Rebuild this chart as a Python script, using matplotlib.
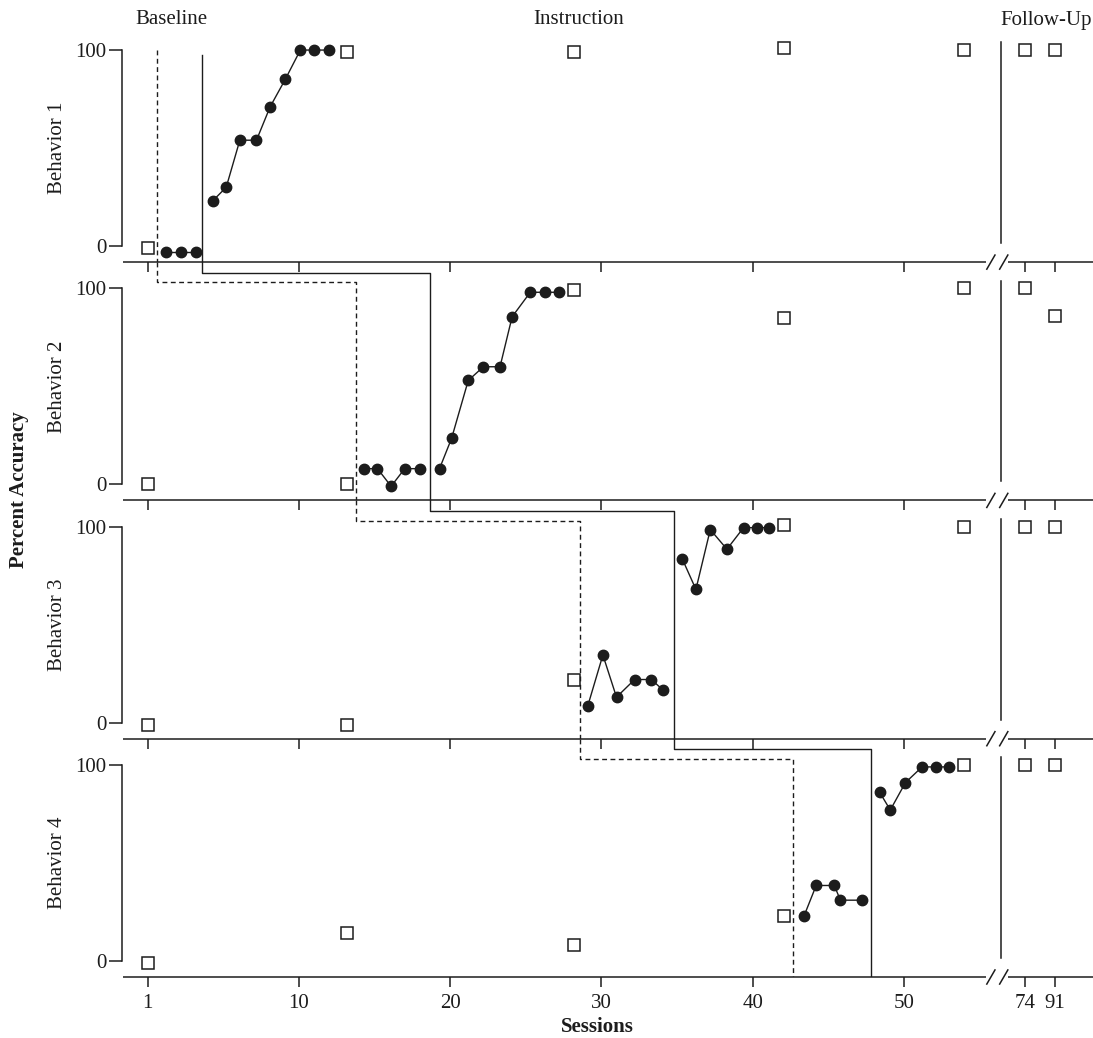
import matplotlib
matplotlib.use("Agg")
import matplotlib.pyplot as plt

plt.rcParams['font.family'] = ['Liberation Serif', 'DejaVu Serif']

# ---------------------------------------------------------------- data
behaviors = ["Behavior 1", "Behavior 2", "Behavior 3", "Behavior 4"]

# probe sessions (open squares) and the two follow-up probes
probe_x = [0, 13.2, 28.2, 42.1, 54.0]
followup_x = [58, 60]
probe_b1 = [-1, 99, 99, 101, 100]
probe_b2 = [0, 0, 99, 85, 100]
probe_b3 = [-1, -1, 22, 101, 100]
probe_b4 = [-1, 14, 8, 23, 100]
followup_b1 = [100, 100]
followup_b2 = [100, 86]
followup_b3 = [100, 100]
followup_b4 = [100, 100]

# baseline sessions (filled circles before instruction)
base_x_b1 = [1.2, 2.2, 3.2]
base_y_b1 = [-3, -3, -3]
base_x_b2 = [14.3, 15.2, 16.1, 17.0, 18.0]
base_y_b2 = [8, 8, -1, 8, 8]
base_x_b3 = [29.1, 30.1, 31.0, 32.2, 33.3, 34.1]
base_y_b3 = [8.5, 34.5, 13, 22, 22, 16.5]
base_x_b4 = [43.4, 44.2, 45.4, 45.8, 47.2]
base_y_b4 = [23, 38.5, 38.5, 31, 31]

# instruction sessions
instr_x_b1 = [4.3, 5.2, 6.1, 7.2, 8.1, 9.1, 10.1, 11.0, 12.0]
instr_y_b1 = [23, 30, 54, 54, 71, 85, 100, 100, 100]
instr_x_b2 = [19.3, 20.1, 21.2, 22.2, 23.3, 24.1, 25.3, 26.3, 27.2]
instr_y_b2 = [8, 23.5, 53, 60, 60, 85.5, 98, 98, 98]
instr_x_b3 = [35.35, 36.25, 37.2, 38.3, 39.4, 40.3, 41.1]
instr_y_b3 = [83.5, 68, 98.5, 88.5, 99.5, 99.5, 99.5]
instr_x_b4 = [48.4, 49.1, 50.1, 51.2, 52.1, 53.0]
instr_y_b4 = [86, 77, 91, 99, 99, 99]

# phase-change lines
probe_line_x = [0.6, 13.8, 28.6, 42.7]     # dashed
instr_line_x = [3.6, 18.7, 34.8, 47.8]     # solid
followup_line_x = 56.4

tick_pos = [0, 10, 20, 30, 40, 50, 58, 60]
tick_labels = ["1", "10", "20", "30", "40", "50", "74", "91"]

probes = [probe_b1, probe_b2, probe_b3, probe_b4]
followups = [followup_b1, followup_b2, followup_b3, followup_b4]
base_x = [base_x_b1, base_x_b2, base_x_b3, base_x_b4]
base_y = [base_y_b1, base_y_b2, base_y_b3, base_y_b4]
instr_x = [instr_x_b1, instr_x_b2, instr_x_b3, instr_x_b4]
instr_y = [instr_y_b1, instr_y_b2, instr_y_b3, instr_y_b4]

# ---------------------------------------------------------------- layout
W, H = 1093, 1038
fig = plt.figure(figsize=(W / 100, H / 100), dpi=100)

INK = "#1c1c1c"
FS = 15
YBOT, YTOP = -8.2, 113.4
XL, XR = -1.69, 62.5
panel_top = [50.1, 288.4, 526.7, 765.0]   # pixel row of the 100 line

axes = []
for i in range(4):
    p = panel_top[i]
    bottom_px = p + 212
    ax = fig.add_axes([122 / W, 1 - bottom_px / H, (W - 122) / W, 238.3 / H])
    ax.set_xlim(XL, XR)
    ax.set_ylim(YBOT, YTOP)
    ax.patch.set_alpha(0)
    for s in ("top", "right", "bottom"):
        ax.spines[s].set_visible(False)
    ax.spines["left"].set_bounds(0, 100)
    ax.spines["left"].set_color(INK)
    ax.spines["left"].set_linewidth(1.1)
    ax.set_yticks([0, 100])
    ax.set_yticklabels(["0", "100"])
    ax.tick_params(axis="y", direction="out", length=9.5, width=1.1,
                   pad=1.5, labelsize=FS, colors=INK)
    ax.set_xticks(tick_pos)
    ax.set_xticklabels(tick_labels)
    ax.tick_params(axis="x", direction="out", length=7, width=1.1, pad=5,
                   labelsize=FS, colors=INK, labelbottom=(i == 3))

    # broken x-axis line with break marks
    ax.plot([XL + 0.05, 55.45], [YBOT, YBOT], color=INK, lw=1.1,
            clip_on=False, solid_capstyle="butt")
    ax.plot([56.85, XR], [YBOT, YBOT], color=INK, lw=1.1,
            clip_on=False, solid_capstyle="butt")
    for xc in (55.75, 56.6):
        ax.plot([xc - 0.27, xc + 0.27], [YBOT - 3.6, YBOT + 3.6],
                color=INK, lw=1.1, clip_on=False)

    # follow-up separator
    ax.plot([followup_line_x, followup_line_x], [1.5, 104], color=INK, lw=1.1)

    # phase-change lines
    dx = probe_line_x[i]
    sx = instr_line_x[i]
    if i == 0:
        ax.plot([dx, dx], [100, YBOT], color=INK, lw=1.0,
                linestyle=(0, (3.5, 2.5)))
        ax.plot([sx, sx], [97.5, YBOT], color=INK, lw=1.0)
    else:
        pdx = probe_line_x[i - 1]
        psx = instr_line_x[i - 1]
        ax.plot([pdx, pdx, dx, dx], [YTOP, 103, 103, YBOT], color=INK,
                lw=1.0, linestyle=(0, (3.5, 2.5)))
        ax.plot([psx, psx, sx, sx], [YTOP, 108, 108, YBOT], color=INK, lw=1.0)

    # data
    ax.plot(base_x[i], base_y[i], color=INK, lw=1.0, marker="o",
            markersize=7.5, mfc=INK, mec=INK, zorder=4)
    ax.plot(instr_x[i], instr_y[i], color=INK, lw=1.0, marker="o",
            markersize=7.5, mfc=INK, mec=INK, zorder=4)
    ax.plot(probe_x, probes[i], linestyle="none", marker="s",
            markersize=8.2, mfc="white", mec=INK, mew=1.1, zorder=5)
    ax.plot(followup_x, followups[i], linestyle="none", marker="s",
            markersize=8.2, mfc="white", mec=INK, mew=1.1, zorder=5)

    fig.text(57 / W, 1 - (p + 98) / H, behaviors[i], rotation=90,
             ha="center", va="center", fontsize=FS, color=INK)
    axes.append(ax)

# phase labels
fig.text(171 / W, 1 - 20 / H, "Baseline", ha="center", va="center",
         fontsize=FS, color=INK)
fig.text(579 / W, 1 - 20 / H, "Instruction", ha="center", va="center",
         fontsize=FS, color=INK)
fig.text(1092 / W, 1 - 20 / H, "Follow-Up", ha="right", va="center",
         fontsize=FS, color=INK)

# axis titles
fig.text(19 / W, 1 - 490 / H, "Percent Accuracy", rotation=90, ha="center",
         va="center", fontsize=FS, fontweight="bold", color=INK)
fig.text(597 / W, 1 - 1027 / H, "Sessions", ha="center", va="center",
         fontsize=FS, fontweight="bold", color=INK)

fig.savefig("out.png", dpi=100)
